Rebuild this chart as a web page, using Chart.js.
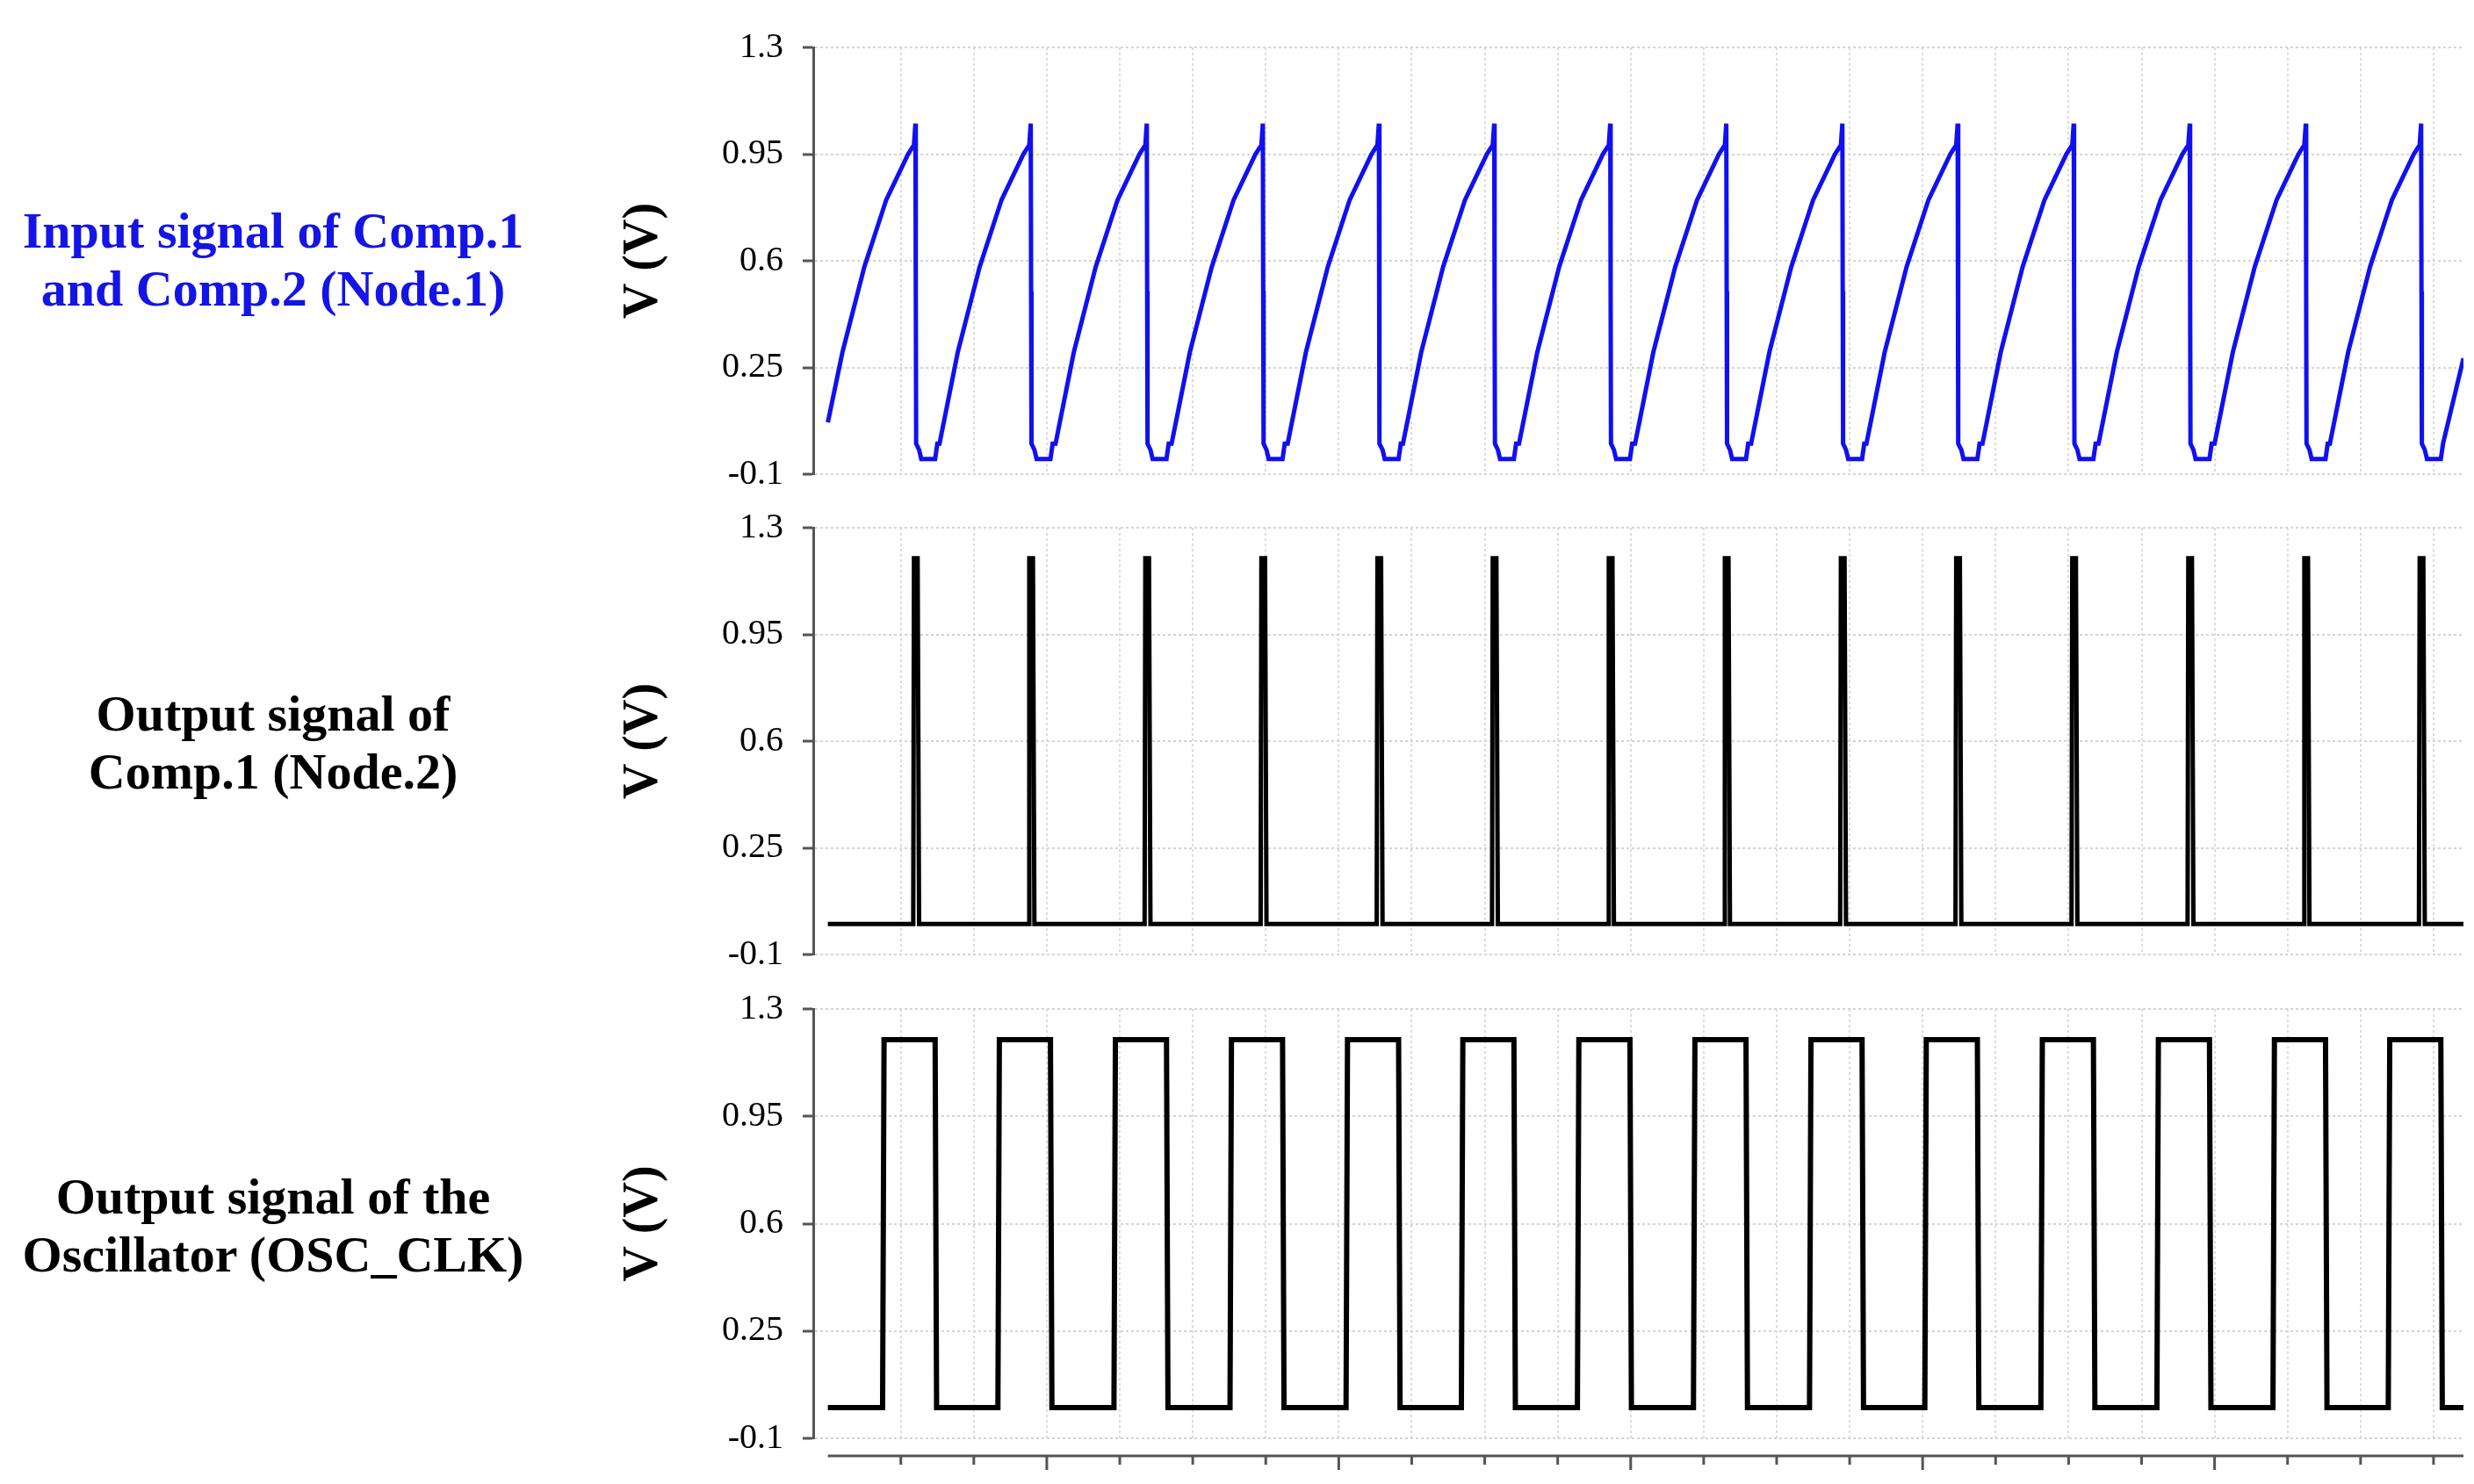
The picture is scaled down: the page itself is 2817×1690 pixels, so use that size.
<!DOCTYPE html>
<html>
<head>
<meta charset="UTF-8">
<title>Oscillator signals</title>
<script src="https://cdn.jsdelivr.net/npm/chart.js@4/dist/chart.umd.min.js"></script>
<style>
  body { margin: 0; background: #fff; width: 2817px; height: 1690px; position: relative; overflow: hidden; }
  .lbl { position: absolute; left: 0; width: 622px; text-align: center; font-family: "Liberation Serif", serif;
         font-weight: bold; font-size: 58px; line-height: 66px; }
  .panel { position: absolute; left: 700px; width: 2117px; }
</style>
</head>
<body>
<div class="lbl" style="top:230px;color:#1414e6">Input signal of Comp.1<br>and Comp.2 (Node.1)</div>
<div class="lbl" style="top:780px;color:#000">Output signal of<br>Comp.1 (Node.2)</div>
<div class="lbl" style="top:1330px;color:#000">Output signal of the<br>Oscillator (OSC_CLK)</div>

<div class="panel" style="top:8px;height:578px"><canvas id="c1"></canvas></div>
<div class="panel" style="top:555px;height:578px"><canvas id="c2"></canvas></div>
<div class="panel" style="top:1103px;height:581px"><canvas id="c3"></canvas></div>

<script>
// time axis in grid units (one unit per small x tick)
var xMin = -0.2;
var xMax = 22.41;
var xTicks = [1, 2, 3, 4, 5, 6, 7, 8, 9, 10, 11, 12, 13, 14, 15, 16, 17, 18, 19, 20, 21, 22];
var yTicks = [-0.1, 0.25, 0.6, 0.95, 1.3];
var yLabels = ['-0.1', '0.25', '0.6', '0.95', '1.3'];

// moments where the Node.1 ramp resets
var dropTimes = [1.20, 2.78, 4.37, 5.96, 7.55, 9.13, 10.72, 12.31, 13.90, 15.48, 17.07, 18.66, 20.25, 21.83];

// Node.1 ramp shape around each reset: offsets and volts
var rampOffsets = [-1.25, -1.0, -0.7, -0.4, -0.1, -0.02, 0, 0.005, 0.01, 0.05, 0.08, 0.27, 0.3];
var rampValues  = [0.0, 0.3, 0.58, 0.8, 0.95, 0.98, 1.05, 0.5, 0.0, -0.02, -0.05, -0.05, 0.0];
var node1Start = 0.07;
var node1End = 0.28;

// Node.2 pulse shape around each reset
var pulseOffsets = [-0.03, -0.02, 0.03, 0.05];
var pulseValues  = [0.0, 1.2, 1.2, 0.0];
var node2Base = 0.0;

// OSC_CLK high window around each reset
var clkOffsets = [-0.45, -0.43, 0.27, 0.29];
var clkValues  = [0.0, 1.2, 1.2, 0.0];
var clkBase = 0.0;

function build(start, offs, vals, end) {
  var pts = [{x: 0, y: start}];
  dropTimes.forEach(function (t) {
    for (var i = 0; i < offs.length; i++) {
      var x = t + offs[i];
      if (x > 0 && x < xMax) pts.push({x: x, y: vals[i]});
    }
  });
  pts.push({x: xMax, y: end});
  return pts;
}

var axisPlugin = {
  id: 'bottomAxis',
  afterDraw: function (chart) {
    if (!chart.options.plugins.bottomAxis.show) return;
    var ctx = chart.ctx, xs = chart.scales.x, a = chart.chartArea;
    var yl = a.bottom + 20;
    ctx.save();
    ctx.strokeStyle = '#555';
    ctx.lineWidth = 3;
    ctx.beginPath();
    ctx.moveTo(xs.getPixelForValue(0), yl);
    ctx.lineTo(a.right, yl);
    xTicks.forEach(function (v) {
      var px = xs.getPixelForValue(v);
      ctx.moveTo(px, yl);
      ctx.lineTo(px, yl + (v % 4 === 3 ? 16 : 10));
    });
    ctx.stroke();
    ctx.restore();
  }
};

function makeChart(id, data, color, width, showAxis) {
  new Chart(document.getElementById(id), {
    type: 'scatter',
    data: { datasets: [{ data: data, showLine: true, borderColor: color, borderWidth: width,
                         pointRadius: 0, tension: 0 }] },
    plugins: [axisPlugin],
    options: {
      responsive: true, maintainAspectRatio: false, animation: false,
      layout: { padding: { top: 25, right: 12, bottom: showAxis ? 45 : 27, left: 0 } },
      plugins: { legend: { display: false }, tooltip: { enabled: false }, bottomAxis: { show: showAxis } },
      scales: {
        x: {
          type: 'linear', min: xMin, max: xMax, offset: false,
          afterBuildTicks: function (s) { s.ticks = xTicks.map(function (v) { return {value: v}; }); },
          ticks: { display: false },
          grid: { color: '#dcdcdc', lineWidth: 2, drawTicks: false },
          border: { display: false, dash: [3, 3] }
        },
        y: {
          min: -0.1, max: 1.3,
          afterBuildTicks: function (s) { s.ticks = yTicks.map(function (v) { return {value: v}; }); },
          afterFit: function (s) { s.width = 226; },
          ticks: {
            color: '#000', padding: 22,
            font: { family: 'Liberation Serif', size: 40 },
            callback: function (v) { var i = yTicks.indexOf(v); return i >= 0 ? yLabels[i] : ''; }
          },
          grid: { color: '#d4d4d4', lineWidth: 2, tickColor: '#555', tickLength: 12, tickWidth: 3, tickBorderDash: [] },
          border: { display: true, color: '#555', width: 3, dash: [3, 3] },
          title: { display: true, text: 'V (V)', color: '#000', padding: { top: 0, bottom: 22 },
                   font: { family: 'Liberation Serif', size: 56, weight: 'bold' } }
        }
      }
    }
  });
}

makeChart('c1', build(node1Start, rampOffsets, rampValues, node1End), '#1010f0', 5, false);
makeChart('c2', build(node2Base, pulseOffsets, pulseValues, node2Base), '#000', 5, false);
makeChart('c3', build(clkBase, clkOffsets, clkValues, clkBase), '#000', 6, true);
</script>
</body>
</html>
